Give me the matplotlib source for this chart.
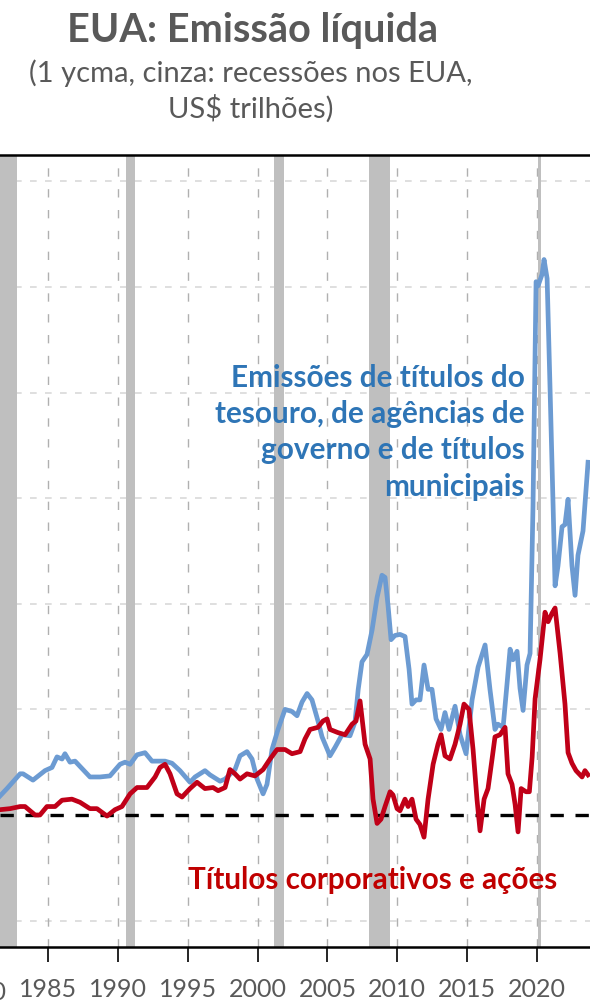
import matplotlib.pyplot as plt
import matplotlib.transforms as mtransforms

plt.rcParams['font.family'] = ['Lato', 'DejaVu Sans']

# Treasury, agency and muni net issuance (US$ tn, 1y moving avg)
gov_years = [1981.56, 1982.06, 1983.0, 1983.21, 1983.92, 1984.78, 1985.28, 1985.64, 1986.0, 1986.21,
             1986.57, 1986.93, 1988.0, 1988.72, 1989.43, 1990.15, 1990.51, 1990.87, 1991.37, 1991.94,
             1992.44, 1993.37, 1993.87, 1994.44, 1995.16, 1995.52, 1996.23, 1996.59, 1997.31, 1997.67,
             1998.38, 1998.74, 1999.24, 1999.6, 1999.96, 2000.39, 2000.67, 2001.03, 2001.46, 2001.96,
             2002.46, 2002.82, 2003.18, 2003.54, 2003.89, 2004.32, 2004.61, 2005.18, 2005.54, 2006.04,
             2006.61, 2006.97, 2007.2, 2007.47, 2007.83, 2008.19, 2008.55, 2008.9, 2009.12, 2009.33,
             2009.55, 2009.83, 2010.19, 2010.55, 2010.84, 2011.05, 2011.34, 2011.62, 2011.91, 2012.2,
             2012.48, 2012.77, 2013.13, 2013.41, 2013.7, 2014.13, 2014.49, 2014.92, 2015.35, 2015.78,
             2016.28, 2016.63, 2016.99, 2017.2, 2017.57, 2017.85, 2018.07, 2018.28, 2018.57, 2018.78,
             2019.0, 2019.28, 2019.5, 2019.71, 2019.93, 2020.07, 2020.36, 2020.5, 2020.72, 2020.93,
             2021.15, 2021.29, 2021.5, 2021.79, 2022.0, 2022.22, 2022.5, 2022.72, 2022.93, 2023.29,
             2023.65]
gov_values = [0.18, 0.25, 0.39, 0.39, 0.33, 0.42, 0.45, 0.55, 0.53, 0.58,
              0.50, 0.51, 0.36, 0.36, 0.37, 0.48, 0.50, 0.48, 0.57, 0.59,
              0.51, 0.51, 0.49, 0.42, 0.31, 0.36, 0.42, 0.38, 0.32, 0.34,
              0.43, 0.56, 0.60, 0.53, 0.34, 0.20, 0.29, 0.62, 0.81, 1.00,
              0.98, 0.94, 1.07, 1.15, 1.09, 0.89, 0.74, 0.56, 0.64, 0.76,
              0.75, 0.88, 1.19, 1.45, 1.52, 1.75, 2.06, 2.27, 2.25, 1.99,
              1.66, 1.70, 1.71, 1.69, 1.38, 1.05, 1.09, 1.09, 1.42, 1.19,
              1.19, 0.91, 0.81, 0.97, 0.81, 1.03, 0.76, 0.58, 1.09, 1.40,
              1.61, 1.19, 0.81, 0.86, 0.83, 1.24, 1.57, 1.47, 1.55, 1.20,
              0.99, 1.42, 1.53, 2.92, 5.05, 5.01, 5.12, 5.26, 5.08, 4.04,
              2.92, 2.17, 2.36, 2.73, 2.75, 2.99, 2.36, 2.08, 2.46, 2.69,
              3.34]

# Corporate bonds and equities net issuance
corp_years = [1981.56, 1982.28, 1983.0, 1983.35, 1984.07, 1984.42, 1984.92, 1985.5, 1986.0, 1986.71,
              1987.29, 1988.0, 1988.5, 1989.22, 1989.79, 1990.29, 1990.87, 1991.37, 1992.08, 1992.66,
              1993.01, 1993.37, 1993.73, 1994.23, 1994.59, 1995.16, 1995.66, 1996.23, 1996.81, 1997.17,
              1997.67, 1998.02, 1998.38, 1998.74, 1999.24, 1999.81, 2000.39, 2000.89, 2001.39, 2001.96,
              2002.46, 2003.04, 2003.39, 2003.75, 2004.32, 2004.68, 2004.97, 2005.18, 2005.75, 2006.26,
              2006.76, 2007.04, 2007.33, 2007.69, 2008.05, 2008.26, 2008.55, 2008.83, 2009.12, 2009.48,
              2009.69, 2009.98, 2010.19, 2010.55, 2010.77, 2011.05, 2011.34, 2011.62, 2011.91, 2012.2,
              2012.56, 2012.91, 2013.13, 2013.41, 2013.77, 2014.13, 2014.49, 2014.77, 2015.13, 2015.42,
              2015.7, 2015.92, 2016.21, 2016.49, 2016.78, 2016.99, 2017.35, 2017.71, 2017.92, 2018.21,
              2018.43, 2018.64, 2018.86, 2019.21, 2019.45, 2019.65, 2019.86, 2020.21, 2020.57, 2020.79,
              2021.07, 2021.29, 2021.65, 2022.0, 2022.22, 2022.5, 2022.79, 2023.22, 2023.43, 2023.65]
corp_values = [0.05, 0.06, 0.08, 0.08, 0.00, 0.00, 0.08, 0.08, 0.14, 0.15,
               0.12, 0.06, 0.06, -0.01, 0.05, 0.08, 0.20, 0.26, 0.26, 0.36,
               0.45, 0.48, 0.39, 0.20, 0.17, 0.25, 0.31, 0.25, 0.26, 0.23,
               0.26, 0.43, 0.39, 0.34, 0.39, 0.37, 0.43, 0.53, 0.62, 0.62,
               0.58, 0.60, 0.72, 0.81, 0.83, 0.89, 0.91, 0.81, 0.78, 0.76,
               0.86, 0.89, 1.08, 0.67, 0.53, 0.15, -0.08, -0.04, 0.08, 0.22,
               0.19, 0.06, 0.04, 0.15, 0.08, 0.15, -0.04, -0.09, -0.21, 0.15,
               0.48, 0.67, 0.76, 0.56, 0.53, 0.67, 0.86, 1.05, 1.00, 0.62,
               0.15, -0.15, 0.15, 0.25, 0.53, 0.74, 0.76, 0.83, 0.39, 0.29,
               0.10, -0.16, 0.25, 0.22, 0.22, 0.55, 1.10, 1.47, 1.92, 1.83,
               1.91, 1.96, 1.53, 1.05, 0.59, 0.49, 0.42, 0.36, 0.42, 0.38]

# US recessions (NBER)
recessions = [(1981.5, 1982.8), (1990.55, 1991.2), (2001.2, 2001.88), (2007.95, 2009.45), (2020.1, 2020.28)]

tick_years = [1980, 1985, 1990, 1995, 2000, 2005, 2010, 2015, 2020]

fig = plt.figure(figsize=(5.90, 10.07), dpi=100)
ax = fig.add_axes([0.0, 0.0596, 1.0, 0.7865])

for start, end in recessions:
    ax.axvspan(start, end, color='#BFBFBF', lw=0, zorder=1)

for y in [-1, 1, 2, 3, 4, 5, 6]:
    ax.axhline(y, color='#D9D9D9', lw=1.2, ls=(0, (4, 5)), zorder=0)
for x in tick_years:
    ax.axvline(x, color='#B0B0B0', lw=1.0, ls=(0, (6, 9)), zorder=0)

ax.axhline(0, color='black', lw=2.4, ls=(0, (4, 3.5)), zorder=2)

ax.plot(gov_years, gov_values, color='#6C9BD2', lw=3.4, zorder=3, solid_joinstyle='round')
ax.plot(corp_years, corp_values, color='#C00018', lw=3.4, zorder=4, solid_joinstyle='round')

ax.set_xticks(tick_years)
ax.set_yticks([])
ax.set_xlim(1981.56, 2023.79)
ax.set_ylim(-1.25, 6.25)
ax.tick_params(axis='x', direction='out', length=10.5, width=1.2, color='black',
               labelsize=18, labelcolor='#595959', pad=12)
for side in ['left', 'right']:
    ax.spines[side].set_visible(False)
ax.spines['top'].set_linewidth(1.8)
ax.spines['bottom'].set_linewidth(1.8)

# the 1980 label sits off the left edge, only its last digit shows
trans = mtransforms.blended_transform_factory(ax.transData, fig.transFigure)
ax.text(tick_years[0], 1 - 993 / 1007, str(tick_years[0]), transform=trans, ha='center',
        va='center', fontsize=18, color='#595959', clip_on=False)

ax.text(0.8898, 0.570, 'Emissões de títulos do\ntesouro, de agências de\ngoverno e de títulos\nmunicipais',
        transform=ax.transAxes, ha='right', va='baseline', fontsize=21.4, fontweight='bold',
        color='#2E75B6', linespacing=1.36, zorder=5)
ax.text(0.631, 0.0733, 'Títulos corporativos e ações', transform=ax.transAxes,
        ha='center', va='baseline', fontsize=21.3, fontweight='bold', color='#C00000', zorder=5)

fig.text(0.428, 0.9583, 'EUA: Emissão líquida', ha='center', va='baseline',
         fontsize=28.5, fontweight='bold', color='#595959')
fig.text(0.425, 0.8828, '(1 ycma, cinza: recessões nos EUA,\nUS$ trilhões)', ha='center',
         va='baseline', fontsize=21, color='#595959', linespacing=1.32)

plt.savefig('out.png', dpi=100)
